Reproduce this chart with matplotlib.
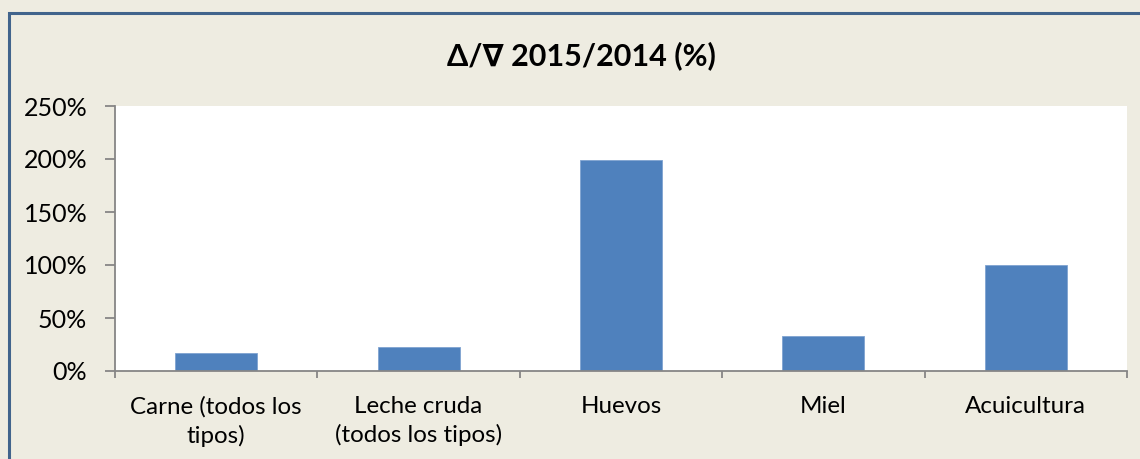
import matplotlib.pyplot as plt
from matplotlib.patches import Rectangle
from matplotlib.ticker import FuncFormatter, FixedLocator

# Datos del gráfico
categorias = ['Carne (todos los\ntipos)', 'Leche cruda\n(todos los tipos)', 'Huevos', 'Miel', 'Acuicultura']
variacion = [0.173, 0.224, 1.987, 0.328, 1.003]
titulo = '\u0394/\u2207 2015/2014 (%)'

fondo = '#EEECE1'
color_barra = '#4F81BD'
gris = '#868686'

plt.rcParams['font.family'] = ['Lato', 'DejaVu Sans']

fig = plt.figure(figsize=(11.4, 4.59), dpi=100)
fig.patch.set_facecolor(fondo)

# Borde del área del gráfico (solo se ve arriba y a la izquierda)
fig.patches.append(Rectangle((9 / 1140, -0.1), 1.2, 1 - 13 / 459 + 0.1,
                             transform=fig.transFigure, fill=False,
                             edgecolor='#41648C', linewidth=2.2))

ax = fig.add_axes([115 / 1140, 1 - 371 / 459, (1127 - 115) / 1140, (371 - 106) / 459])
ax.set_facecolor('white')

x = range(len(categorias))
ax.bar(x, variacion, width=0.405, color=color_barra, edgecolor='#7FA3D1', linewidth=0.6)

ax.set_xlim(-0.5, len(categorias) - 0.5)
ax.set_ylim(0, 2.5)
ax.set_yticks([0, 0.5, 1.0, 1.5, 2.0, 2.5])
ax.yaxis.set_major_formatter(FuncFormatter(lambda v, p: f'{v * 100:.0f}%'))

ax.set_xticks(list(x))
ax.set_xticklabels(categorias, fontsize=17.4, linespacing=1.4)
ax.xaxis.set_minor_locator(FixedLocator([i - 0.5 for i in range(len(categorias) + 1)]))
ax.tick_params(axis='x', which='major', length=0, pad=18)
ax.tick_params(axis='x', which='minor', length=5, color=gris, width=1.3)
ax.tick_params(axis='y', length=7, color=gris, width=1.3, labelsize=18, pad=13)

for lado in ['top', 'right']:
    ax.spines[lado].set_visible(False)
for lado in ['left', 'bottom']:
    ax.spines[lado].set_color(gris)
    ax.spines[lado].set_linewidth(1.3)

fig.text(581 / 1140, 1 - 56 / 459, titulo, ha='center', va='center',
         fontsize=22, fontweight='bold')

fig.savefig('out.png', dpi=100, facecolor=fondo)
